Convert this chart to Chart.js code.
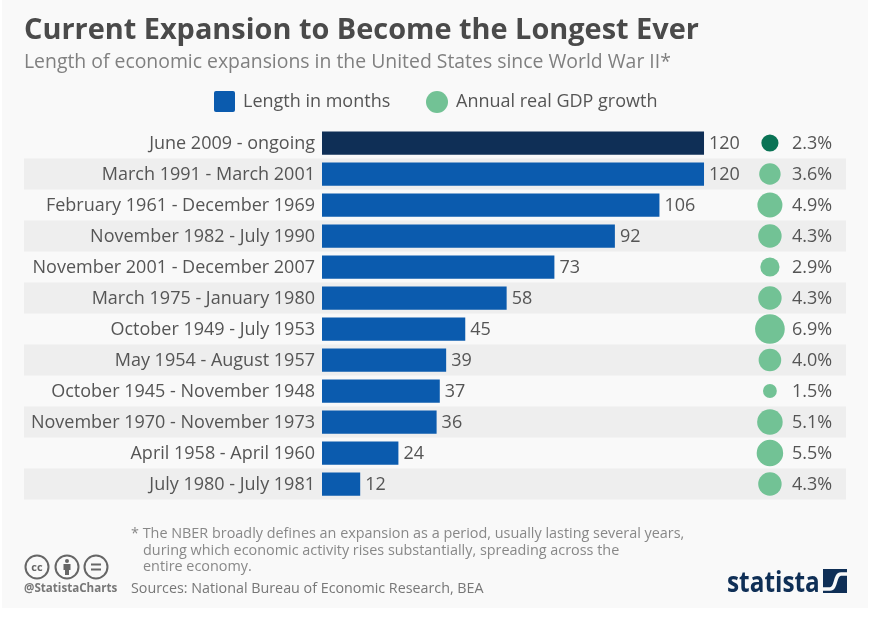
<!DOCTYPE html>
<html>
<head>
<meta charset="utf-8">
<script src="https://cdn.jsdelivr.net/npm/chart.js@4/dist/chart.umd.min.js"></script>
<style>
  html, body { margin: 0; background: #fff; }
  #page { position: relative; width: 871px; height: 621px; overflow: hidden; font-family: "Open Sans", sans-serif; }
  #paper { position: absolute; left: 2px; top: 0; width: 866px; height: 608px; background: #f9f9f9; }
  canvas { position: absolute; left: 0; top: 0; }
  .t { position: absolute; white-space: nowrap; }
  #title { left: 24px; top: 8px; font-size: 28.9px; font-weight: 700; color: #4a4a4a; }
  #sub { left: 24px; top: 47px; font-size: 19.4px; color: #808080; }
  .leg { font-size: 18px; color: #555; top: 88px; }
  .note { font-size: 14.4px; color: #888; }
  #src { left: 131px; top: 578px; font-size: 14.3px; color: #777; }
  #handle { left: 24px; top: 580px; font-size: 11.6px; font-weight: 700; color: #777; }
  #logo { left: 727px; top: 561px; font-size: 29px; font-weight: 700; color: #0f2f56; transform: scaleX(.84); transform-origin: left; }
</style>
</head>
<body>
<div id="page">
  <div id="paper"></div>
  <canvas id="chart" width="871" height="621"></canvas>
  <div class="t" id="title">Current Expansion to Become the Longest Ever</div>
  <div class="t" id="sub">Length of economic expansions in the United States since World War II*</div>

  <svg style="position:absolute;left:214px;top:91px" width="21" height="21"><rect width="21" height="21" rx="2" fill="#0b5bae"/></svg>
  <div class="t leg" style="left:243px">Length in months</div>
  <svg style="position:absolute;left:426px;top:91px" width="22" height="22"><circle cx="11" cy="11" r="11" fill="#72c295"/></svg>
  <div class="t leg" style="left:456px">Annual real GDP growth</div>

  <div class="t note" style="left:131px;top:523px">* The NBER broadly defines an expansion as a period, usually lasting several years,</div>
  <div class="t note" style="left:143px;top:540px">during which economic activity rises substantially, spreading across the</div>
  <div class="t note" style="left:143px;top:556px">entire economy.</div>
  <div class="t" id="src">Sources: National Bureau of Economic Research, BEA</div>

  <svg style="position:absolute;left:24px;top:554px" width="88" height="26" fill="none" stroke="#666" stroke-width="2">
    <circle cx="13" cy="13" r="11.5"/><circle cx="43" cy="13" r="11.5"/><circle cx="72" cy="13" r="11.5"/>
    <circle cx="43" cy="7" r="2" fill="#666" stroke="none"/><rect x="39.5" y="10" width="7" height="6" fill="#666" stroke="none"/><rect x="41" y="15" width="4" height="6" fill="#666" stroke="none"/>
    <path d="M67 10.5h10M67 15.5h10"/>
    <text x="13" y="17" font-size="11" font-weight="700" text-anchor="middle" fill="#666" stroke="none" font-family="Open Sans">cc</text>
  </svg>
  <div class="t" id="handle">@StatistaCharts</div>

  <div class="t" id="logo">statista</div>
  <svg style="position:absolute;left:823px;top:569px" width="24" height="24"><rect width="24" height="24" fill="#0f2f56"/><path d="M0 20 H7 C14 20 11 5 18 5 H24" fill="none" stroke="#f9f9f9" stroke-width="3.5"/></svg>
</div>

<script>
// expansions, longest first
const periods = ['June 2009 - ongoing', 'March 1991 - March 2001', 'February 1961 - December 1969',
  'November 1982 - July 1990', 'November 2001 - December 2007', 'March 1975 - January 1980',
  'October 1949 - July 1953', 'May 1954 - August 1957', 'October 1945 - November 1948',
  'November 1970 - November 1973', 'April 1958 - April 1960', 'July 1980 - July 1981'];
const months = [120, 120, 106, 92, 73, 58, 45, 39, 37, 36, 24, 12];
const gdpGrowth = [2.3, 3.6, 4.9, 4.3, 2.9, 4.3, 6.9, 4.0, 1.5, 5.1, 5.5, 4.3];

const BLUE = '#0b5bae', NAVY = '#0f2f56', GREEN = '#72c295', DARK_GREEN = '#0a7355';
const FONT = '"Open Sans", sans-serif';
const GDP_COLUMN = 140.7; // bubbles sit in a column right of the bars, in x axis units

// grey band behind every second row
const stripes = {
  id: 'stripes',
  beforeDraw(chart) {
    const { ctx, chartArea, scales: { y } } = chart;
    ctx.save();
    ctx.fillStyle = '#eeeeee';
    const h = y.getPixelForValue(1) - y.getPixelForValue(0);
    periods.forEach((p, i) => {
      if (i % 2) ctx.fillRect(24, y.getPixelForValue(i) - h / 2, chartArea.right - 24, h);
    });
    ctx.restore();
  }
};

// period names left of the bars, month values after them, growth after the bubbles
const rowLabels = {
  id: 'rowLabels',
  afterDatasetsDraw(chart) {
    const { ctx, scales: { x, y } } = chart;
    ctx.save();
    ctx.font = '18px ' + FONT;
    ctx.fillStyle = '#555';
    ctx.textBaseline = 'middle';
    months.forEach((m, i) => {
      const py = y.getPixelForValue(i) + 1;
      ctx.textAlign = 'right';
      ctx.fillText(y.getLabelForValue(i), x.getPixelForValue(0) - 7, py);
      ctx.textAlign = 'left';
      ctx.fillText(m, x.getPixelForValue(m) + 5, py);
      ctx.fillText(gdpGrowth[i].toFixed(1) + '%', 792, py);
    });
    ctx.restore();
  }
};

new Chart('chart', {
  data: {
    labels: periods,
    datasets: [
      {
        type: 'bar',
        data: months,
        indexAxis: 'y',
        categoryPercentage: 0.75,
        barPercentage: 1,
        backgroundColor: months.map((m, i) => i === 0 ? NAVY : BLUE)
      },
      {
        type: 'bubble',
        data: gdpGrowth.map((g, i) => ({ x: GDP_COLUMN, y: i, r: 5.65 * Math.sqrt(g) })),
        backgroundColor: gdpGrowth.map((g, i) => i === 0 ? DARK_GREEN : GREEN),
        borderWidth: 0
      }
    ]
  },
  options: {
    responsive: false,
    animation: false,
    layout: { padding: { top: 127.5, bottom: 121.5, right: 25 } },
    plugins: { legend: { display: false }, tooltip: { enabled: false } },
    scales: {
      x: { type: 'linear', min: 0, max: 164.6, display: false },
      y: {
        type: 'category',
        offset: true,
        grid: { display: false, tickLength: 0 },
        border: { display: false },
        ticks: { display: false },
        afterFit(s) { s.width = 322; }
      }
    }
  },
  plugins: [stripes, rowLabels]
});
</script>
</body>
</html>
